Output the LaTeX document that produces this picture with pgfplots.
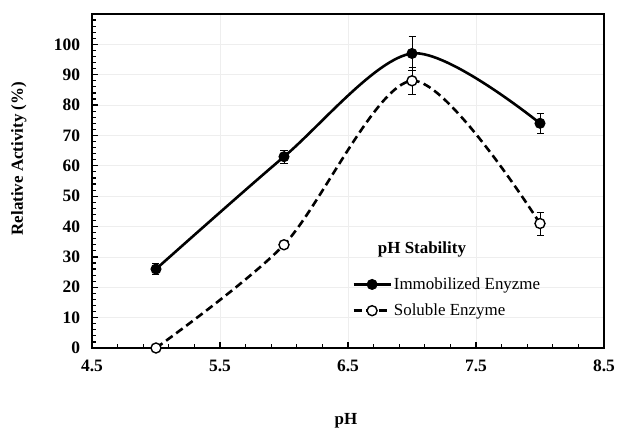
\documentclass[border=0pt]{standalone}
\usepackage{fontspec}
\setmainfont{Liberation Serif}
\usepackage{pgfplots}
\pgfplotsset{compat=1.18}

\begin{document}
\begin{tikzpicture}
\begin{axis}[
    scale only axis,
    width=512bp, height=334bp,
    xmin=4.5, xmax=8.5,
    ymin=0, ymax=110,
    xtick={4.5,5.5,6.5,7.5,8.5},
    xticklabels={4.5,5.5,6.5,7.5,8.5},
    ytick={0,10,...,100},
    minor xtick={4.7,4.9,5.1,5.3,5.7,5.9,6.1,6.3,6.7,6.9,7.1,7.3,7.7,7.9,8.1,8.3},
    minor ytick={2,4,...,108},
    xtick pos=bottom, ytick pos=left,
    tick align=inside,
    major tick length=6bp, minor tick length=4bp,
    tick style={black, line width=1.2bp},
    axis line style={black, line width=2bp},
    grid=major,
    major grid style={gray!13, line width=0.7bp},
    /pgf/number format/assume math mode=true,
    ticklabel style={font=\fontsize{17.5}{19}\selectfont\bfseries},
    xticklabel style={yshift=-8.5bp},
    yticklabel style={xshift=-8.5bp},
    xlabel={pH},
    ylabel={Relative Activity (\%)},
    every axis x label/.style={at={(axis description cs:0.496,-0.219)}, anchor=center,
        font=\fontsize{17}{19}\selectfont\bfseries},
    every axis y label/.style={at={(axis description cs:-0.143,0.567)}, anchor=center, rotate=90,
        font=\fontsize{17}{19}\selectfont\bfseries},
    legend style={at={(axis description cs:0.508,0.151)}, anchor=west, draw=none, fill=none,
        inner sep=0pt, row sep=9bp, font=\fontsize{17}{19}\selectfont},
    legend cell align=left,
    legend image code/.code={\draw[mark repeat=2,mark phase=2,#1]
        plot coordinates {(0bp,0bp) (18.5bp,0bp) (37bp,0bp)};},
]

% immobilized enzyme
\addplot+[smooth, black, solid, line width=2.6bp,
    mark=*, mark size=5bp, mark options={solid, fill=black, line width=1bp},
    error bars/.cd, y dir=both, y explicit,
    error bar style={line width=0.9bp, solid},
    error mark options={rotate=90, mark size=3.5bp, line width=0.9bp}]
coordinates {
    (5,26) +- (0,1.8)
    (6,63) +- (0,2.2)
    (7,97) +- (0,5.5)
    (8,74) +- (0,3.2)
};
\addlegendentry{Immobilized Enyzme}

% soluble enzyme
\addplot+[smooth, black, line width=2.6bp, dash pattern=on 8bp off 4.5bp,
    mark=*, mark size=5bp, mark options={solid, fill=white, draw=black, line width=1.4bp},
    error bars/.cd, y dir=both, y explicit,
    error bar style={line width=0.9bp, solid},
    error mark options={rotate=90, mark size=3.5bp, line width=0.9bp}]
coordinates {
    (5,0) +- (0,0)
    (6,34) +- (0,1)
    (7,88) +- (0,4.4)
    (8,41) +- (0,3.8)
};
\addlegendentry{Soluble Enzyme}

\node[font=\fontsize{17}{19}\selectfont\bfseries] at (axis cs:7.078,32.6) {pH Stability};
\end{axis}
\pgfresetboundingbox
\path[use as bounding box] (-92bp,-80bp) rectangle (525bp,348bp);
\end{tikzpicture}
\end{document}
